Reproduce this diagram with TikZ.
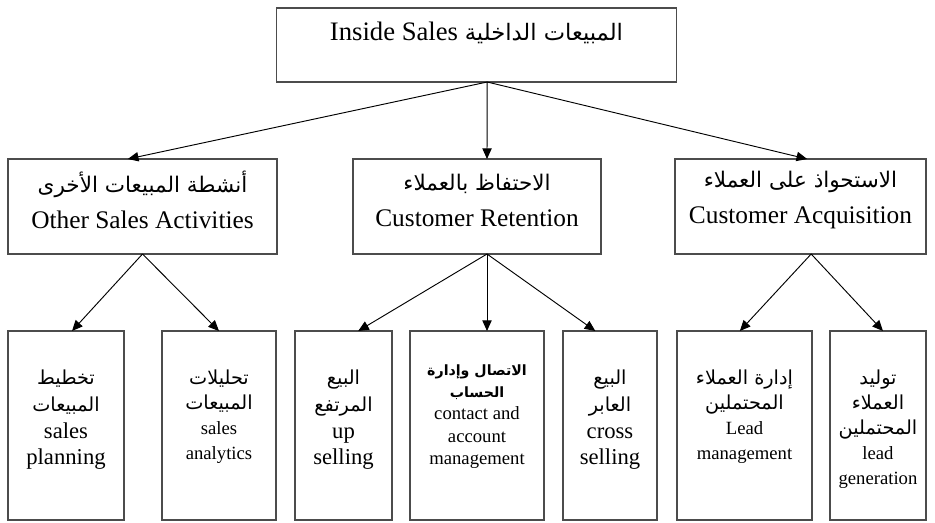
\documentclass[tikz,border=0pt]{standalone}
\usepackage{fontspec}
\setmainfont{Liberation Serif}
\newfontfamily\arabicfont[Script=Arabic,Scale=0.85]{DejaVu Sans}
\TeXXeTstate=1
\usetikzlibrary{arrows.meta}
\newcommand{\ar}[1]{{\arabicfont\beginR #1\endR}}
\newcommand{\arbig}[1]{{\fontsize{17}{18}\selectfont\ar{#1}}}
\newcommand{\arbold}[1]{{\fontsize{12.5}{16}\selectfont\bfseries\ar{#1}}}

\tikzset{
	box/.style={draw=black!70, line width=0.8pt, rectangle, inner sep=0pt, outer sep=0pt},
	lbl/.style={align=center, inner sep=0pt},
	arr/.style={-{Triangle[length=8pt,width=7pt]}, line width=0.7pt},
}

\begin{document}
\begin{tikzpicture}[x=0.75pt, y=-0.75pt]
			%%%%% START %%%%%
			\useasboundingbox (0,0) rectangle (935,522);
			
			% top level
			\node[box, minimum width=300pt, minimum height=55.5pt] (sales) at (476.5,45) {};
			\node[lbl, font=\fontsize{20}{24}\selectfont] (salestxt) at (476.5,33) {Inside Sales \ar{المبيعات الداخلية}};
			
			% second level
			\node[box, minimum width=201.75pt, minimum height=71.25pt] (other) at (142.5,206.5) {};
			\node[box, minimum width=186pt, minimum height=71.25pt] (retain) at (477,206.5) {};
			\node[box, minimum width=188.25pt, minimum height=71.25pt] (acquire) at (800.5,206.5) {};
			
			\node[lbl, font=\fontsize{19}{27}\selectfont] (othertxt) at (142.5,200) {\ar{أنشطة المبيعات الأخرى}\\ Other Sales Activities};
			\node[lbl, font=\fontsize{19}{27}\selectfont] (retaintxt) at (477,200) {\ar{الاحتفاظ بالعملاء}\\ Customer Retention};
			\node[lbl, font=\fontsize{19}{27}\selectfont] (acquiretxt) at (800.5,200) {\ar{الاستحواذ على العملاء}\\ Customer Acquisition};
			
			% third level
			\node[box, minimum width=87pt, minimum height=141.75pt] (plan) at (66,425.5) {};
			\node[box, minimum width=85.5pt, minimum height=141.75pt] (analyt) at (219,425.5) {};
			\node[box, minimum width=72.75pt, minimum height=141.75pt] (upsell) at (343.5,425.5) {};
			\node[box, minimum width=100.5pt, minimum height=141.75pt] (contact) at (477,425.5) {};
			\node[box, minimum width=70.5pt, minimum height=141.75pt] (cross) at (610,425.5) {};
			\node[box, minimum width=101.25pt, minimum height=141.75pt] (leadmg) at (744.5,425.5) {};
			\node[box, minimum width=72pt, minimum height=141.75pt] (leadgen) at (878,425.5) {};
			
			\node[lbl, anchor=north, font=\fontsize{17}{20}\selectfont] (plantxt) at (66,370) {\ar{تخطيط}\\ \ar{المبيعات}\\ sales\\ planning};
			\node[lbl, anchor=north, font=\fontsize{14}{18.75}\selectfont] (analyttxt) at (219,370) {\arbig{تحليلات}\\ \arbig{المبيعات}\\ sales\\ analytics};
			\node[lbl, anchor=north, font=\fontsize{17}{20}\selectfont] (upselltxt) at (343.5,370) {\ar{البيع}\\ \ar{المرتفع}\\ up\\ selling};
			\node[lbl, anchor=north, font=\fontsize{14}{16.8}\selectfont] (contacttxt) at (477,364) {\arbold{الاتصال وإدارة}\\ \arbold{الحساب}\\ contact and\\ account\\ management};
			\node[lbl, anchor=north, font=\fontsize{17}{20}\selectfont] (crosstxt) at (610,370) {\ar{البيع}\\ \ar{العابر}\\ cross\\ selling};
			\node[lbl, anchor=north, font=\fontsize{14}{18.75}\selectfont] (leadmgtxt) at (744.5,370) {\arbig{إدارة العملاء}\\ \arbig{المحتملين}\\ Lead\\ management};
			\node[lbl, anchor=north, font=\fontsize{14}{18.75}\selectfont] (leadgentxt) at (878,370) {\arbig{توليد}\\ \arbig{العملاء}\\ \arbig{المحتملين}\\ lead\\ generation};
			
			% connectors
			\draw[arr] ([xshift=8pt]sales.south) -- ([xshift=-11pt]other.north);
			\draw[arr] ([xshift=8pt]sales.south) -- ([xshift=7.5pt]retain.north);
			\draw[arr] ([xshift=8pt]sales.south) -- ([xshift=5pt]acquire.north);
			
			\draw[arr] (other.south) -- ([xshift=4.5pt]plan.north);
			\draw[arr] (other.south) -- (analyt.north);
			
			\draw[arr] ([xshift=7.5pt]retain.south) -- ([xshift=11pt]upsell.north);
			\draw[arr] ([xshift=7.5pt]retain.south) -- ([xshift=7.5pt]contact.north);
			\draw[arr] ([xshift=7.5pt]retain.south) -- ([xshift=-11pt]cross.north);
			
			\draw[arr] ([xshift=8pt]acquire.south) -- ([xshift=-3.5pt]leadmg.north);
			\draw[arr] ([xshift=8pt]acquire.south) -- ([xshift=3.75pt]leadgen.north);
			%%%%% END %%%%%
\end{tikzpicture}
\end{document}
